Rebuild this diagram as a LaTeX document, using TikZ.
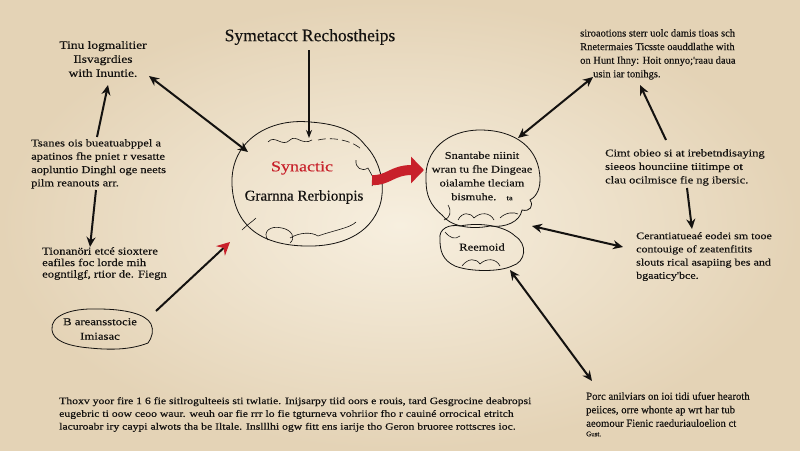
\documentclass[tikz,border=0pt]{standalone}
\usepackage{fontspec}
\setmainfont{Liberation Serif}
\newfontfamily\widefont[FakeStretch=1.2,FakeBold=0.3]{Liberation Serif}
\newfontfamily\plainfont[FakeBold=0.3]{Liberation Serif}
\usetikzlibrary{arrows.meta}
\definecolor{paper}{RGB}{247,239,223}
\definecolor{paperedge}{RGB}{228,211,182}
\definecolor{ink}{RGB}{20,18,16}
\definecolor{redink}{RGB}{200,32,42}
\tikzset{
  txt/.style={text=ink, inner sep=0pt, align=left, anchor=north west},
  ctxt/.style={text=ink, inner sep=0pt, align=center},
  con/.style={line width=2pt, draw=ink, {Stealth[length=10pt,width=9pt]}-{Stealth[length=10pt,width=9pt]}},
  conto/.style={line width=2pt, draw=ink, -{Stealth[length=10pt,width=9pt]}},
  outline/.style={draw=ink, line width=0.8pt},
  thin/.style={draw=ink, line width=0.6pt},
}
\begin{document}
\begin{tikzpicture}[x=1pt,y=-1pt]
\useasboundingbox (0,0) rectangle (800,450);
\shade[inner color=paper, outer color=paperedge] (0,0) rectangle (800,450);

% title
\node[font=\plainfont\fontsize{17.5}{20}\selectfont, text=ink, inner sep=0pt] (title) at (310,37) {Symetacct Rechostheips};

% main cloud
\draw[outline] (232,185) .. controls (230,140) and (270,118) .. (310,122)
  .. controls (340,124) and (355,132) .. (365,145)
  .. controls (380,160) and (386,185) .. (380,205)
  .. controls (370,235) and (340,247) .. (305,246)
  .. controls (260,245) and (234,225) .. (232,185) -- cycle;
\draw[thin] (268,142) .. controls (275,134) and (282,148) .. (290,140) .. controls (296,134) and (302,146) .. (312,140);
\draw[thin, dash pattern=on 8pt off 4pt] (318,140) .. controls (335,136) and (355,142) .. (362,150);
\draw[thin] (356,160) .. controls (355,168) and (362,172) .. (368,168) .. controls (372,176) and (376,180) .. (372,186);
\draw[thin] (242,230) .. controls (248,224) and (252,222) .. (256,218);
\draw[thin] (268,240) .. controls (262,232) and (270,225) .. (282,228) .. controls (292,230) and (296,238) .. (290,243);
\draw[thin] (290,238) .. controls (300,232) and (312,232) .. (318,236) .. controls (335,230) and (350,228) .. (356,222);
\node[font=\widefont\fontsize{15}{17}\selectfont, text=redink, inner sep=0pt] (syn) at (302,168) {Synactic};
\node[font=\plainfont\fontsize{15}{17}\selectfont, text=ink, inner sep=0pt] (gram) at (304,197) {Grarnna Rerbionpis};
\coordinate (maintop) at (309,138);
\coordinate (mainleft) at (248,152);
\coordinate (mainll) at (230,242);
\coordinate (mainright) at (372,180);

% right cloud
\draw[outline] (426,180) .. controls (424,150) and (448,130) .. (480,130)
  .. controls (515,130) and (540,148) .. (540,180)
  .. controls (540,192) and (534,198) .. (530,200)
  .. controls (534,206) and (530,212) .. (522,210)
  .. controls (520,222) and (505,228) .. (490,226)
  .. controls (470,230) and (450,226) .. (442,215)
  .. controls (430,205) and (426,195) .. (426,180) -- cycle;
\draw[thin] (448,205) .. controls (452,212) and (450,218) .. (444,220);
\draw[thin] (458,220) .. controls (462,212) and (470,212) .. (474,218) .. controls (480,212) and (490,212) .. (494,220);
\draw[thin] (500,218) .. controls (506,212) and (514,212) .. (518,214);
\node[ctxt, font=\widefont\fontsize{10.3}{13.8}\selectfont] (rtext) at (482,176) {Snantabe niinit\\wran tu fhe Dingeae\\oialamhe tleciam\\bismuhe.\quad{\fontsize{7}{8}\selectfont ta}};
\coordinate (rtop) at (518,138);
\coordinate (rright) at (532,226);
\coordinate (rleft) at (424,170);

% small cloud
\draw[outline] (440,240) .. controls (438,228) and (450,224) .. (460,226)
  .. controls (480,222) and (505,226) .. (515,236)
  .. controls (528,244) and (526,262) .. (512,266)
  .. controls (500,272) and (470,272) .. (455,266)
  .. controls (442,260) and (440,250) .. (440,240) -- cycle;
\draw[thin] (445,232) .. controls (450,238) and (455,240) .. (460,236);
\draw[thin] (462,266) .. controls (468,258) and (476,258) .. (480,264) .. controls (486,258) and (496,258) .. (500,266);
\node[font=\widefont\fontsize{10.5}{12}\selectfont, text=ink, inner sep=0pt] (reem) at (482,247) {Reemoid};
\coordinate (sbot) at (510,270);

% red arrow
\draw[redink, line width=10pt, -{Triangle[length=13pt,width=26pt]}] (mainright) .. controls (388,181) and (392,170) .. (rleft);

% left column
\node[ctxt, font=\widefont\fontsize{11.2}{14}\selectfont] (tl) at (103,59) {Tinu logmalitier\\Ilsvagrdies\\with Inuntie.};
\node[txt, font=\widefont\fontsize{10.4}{13.3}\selectfont] (b2) at (31,139) {Tsanes ois bueatuabppel a\\apatinos fhe pniet r vesatte\\aopluntio Dinghl oge neets\\pilm reanouts arr.};
\node[txt, font=\widefont\fontsize{10.5}{11.5}\selectfont] (b3) at (42,247) {Tionanöri etcé sioxtere\\eafiles foc lorde mih\\eogntilgf, rtior de. Fiegn};
\draw[outline] (52,330) .. controls (50,316) and (70,308) .. (98,309)
  .. controls (125,309) and (146,314) .. (151,324)
  .. controls (154,330) and (152,338) .. (148,343)
  .. controls (130,350) and (110,350) .. (90,348)
  .. controls (66,346) and (53,340) .. (52,330) -- cycle;
\node[ctxt, font=\widefont\fontsize{10.6}{14.5}\selectfont] (blob) at (100,329) {B areansstocie\\Imiasac};

\coordinate (tlarrow) at (149,76);
\coordinate (tlbot) at (108,85);
\coordinate (b2top) at (97,137);
\coordinate (b2bot) at (96,190);
\coordinate (b3top) at (90,247);
\coordinate (blobr) at (156,311);
\coordinate (titlebot) at (309,50);

\draw[con] (tlarrow) -- (mainleft);
\draw[conto] (b2top) -- (tlbot);
\draw[conto] (b2bot) -- (b3top);
\draw[line width=2pt, draw=ink, -{Stealth[length=13pt,width=13pt,color=redink]}] (blobr) -- (mainll);
\draw[line width=1.6pt, draw=ink, -{Stealth[length=8pt,width=6pt]}] (titlebot) -- (maintop);

% right column
\node[txt, font=\plainfont\fontsize{10.5}{13.6}\selectfont] (tr) at (580,29) {siroaotions sterr uolc damis tioas sch\\Rnetermaies Ticsste oauddlathe with\\on Hunt Ihny: Hoit onnyo;'raau daua\\\hspace*{13pt}usin iar tonihgs.};
\node[txt, font=\widefont\fontsize{10.4}{13.5}\selectfont] (c1) at (605,149) {Cimt obieo si at irebetndisaying\\sieeos hounciine tiitimpe ot\\clau ocilmisce fie ng ibersic.};
\node[txt, font=\widefont\fontsize{10}{13.2}\selectfont] (c2) at (636,232) {Cerantiatueaé eodei sm tooe\\contouige of zeatenfitits\\slouts rical asapiing bes and\\bgaaticy'bce.};
\node[txt, font=\plainfont\fontsize{10.7}{13.5}\selectfont] (br) at (586,392) {Porc anilviars on ioi tidi ufuer hearoth\\peiices, orre whonte ap wrt har tub\\aeomour Fienic raeduriauloelion ct\\[-4pt]{\fontsize{7}{8}\selectfont Gust.}};
\node[txt, font=\widefont\fontsize{9.75}{12.8}\selectfont] (bot) at (59,397) {Thoxv yoor fire 1 6 fie sitlrogulteeis sti twlatie. Inijsarpy tiid oors e rouis, tard Gesgrocine deabropsi\\eugebric ti oow ceoo waur. weuh oar fie rrr lo fie tgturneva vohriior fho r cauiné orrocical etritch\\lacuroabr iry caypi alwots tha be Iltale. Inslllhi ogw fitt ens iarije tho Geron bruoree rottscres ioc.};

\coordinate (trarrow) at (593,77);
\coordinate (trarrow2) at (640,85);
\coordinate (c1top) at (666,140);
\coordinate (c1bot) at (687,188);
\coordinate (c2top) at (692,229);
\coordinate (c2left) at (623,247);
\coordinate (brtop) at (592,381);

\draw[con] (trarrow) -- (rtop);
\draw[conto] (c1top) -- (trarrow2);
\draw[conto] (c1bot) -- (c2top);
\draw[con] (rright) -- (c2left);
\draw[con] (sbot) -- (brtop);
\end{tikzpicture}
\end{document}
